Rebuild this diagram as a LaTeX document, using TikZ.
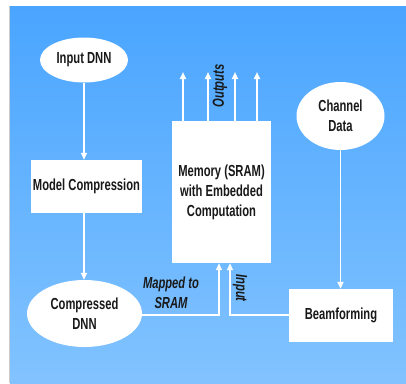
\documentclass[tikz,border=0pt]{standalone}
\usepackage{fontspec}
\newfontfamily\lab{Liberation Sans}[FakeStretch=0.7]
\usetikzlibrary{shapes.geometric,arrows.meta}
\definecolor{bgtop}{HTML}{4AA5FF}
\definecolor{bgbot}{HTML}{82C3FF}
\tikzset{
  every node/.style={font=\lab\bfseries\fontsize{16}{20}\selectfont, text=black!90, align=center},
  ell/.style={ellipse, fill=white, inner sep=0pt},
  box/.style={rectangle, fill=white, inner sep=0pt},
  arr/.style={draw=white, line width=1.8pt, -{Triangle[width=6pt,length=7pt]}},
  lbl/.style={font=\lab\bfseries\itshape\fontsize{16}{20}\selectfont}
}
\begin{document}
\begin{tikzpicture}[x=1pt,y=-1pt]
\useasboundingbox (0,0) rectangle (406,383);
\fill[white] (0,0) rectangle (406,383);
\shade[top color=bgtop, bottom color=bgbot] (10,6) rectangle (406,383);
\draw[gray!40, line width=0.8pt] (9.6,6) -- (9.6,383);

\node[ell, minimum width=88pt, minimum height=45pt] (idnn) at (84,60) {Input DNN};
\node[box, minimum width=111pt, minimum height=53pt] (mc) at (86.5,186.5) {Model Compression};
\node[ell, minimum width=115pt, minimum height=67pt] (cdnn) at (84.5,313.5) {Compressed\\DNN};
\node[box, minimum width=99pt, minimum height=142pt] (mem) at (221.5,192) {Memory (SRAM)\\with Embedded\\Computation};
\node[ell, minimum width=88pt, minimum height=68pt] (cd) at (340.5,116) {Channel\\Data};
\node[box, minimum width=104pt, minimum height=53pt] (bf) at (341,315.5) {Beamforming};

\draw[arr] (idnn.south) -- (mc.north -| idnn.south);
\draw[arr] (mc.south -| idnn.south) -- (cdnn.north -| idnn.south);
\draw[arr] (cd.south) -- (bf.north -| cd.south);

\coordinate (o1) at (183,72);
\coordinate (o2) at (208,72);
\coordinate (o3) at (235,72);
\coordinate (o4) at (257,72);
\draw[arr] (o1 |- mem.north) -- (o1);
\draw[arr] (o2 |- mem.north) -- (o2);
\draw[arr] (o3 |- mem.north) -- (o3);
\draw[arr] (o4 |- mem.north) -- (o4);
\node[lbl, rotate=90] (out) at (220,86) {Outputs};

\coordinate (m1) at (219,315);
\coordinate (m2) at (230,315);
\draw[arr] (cdnn.east |- m1) -- (m1) -- (m1 |- mem.south);
\draw[arr] (bf.west |- m2) -- (m2) -- (m2 |- mem.south);
\node[lbl] (map) at (171,293) {Mapped to\\SRAM};
\node[lbl, rotate=-90] (inp) at (240,288) {Input};
\end{tikzpicture}
\end{document}
